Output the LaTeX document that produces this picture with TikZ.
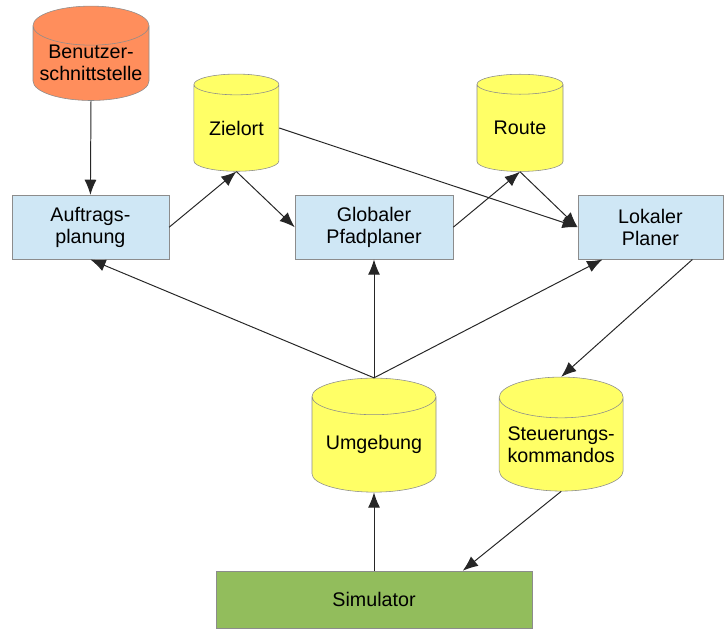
\documentclass[tikz,border=0pt]{standalone}
\usepackage{fontspec}
\setmainfont{Liberation Sans}
\usepackage{tikz}
\usetikzlibrary{shapes.geometric,arrows.meta,positioning,calc}

\definecolor{dbOrange}{RGB}{255,142,92}
\definecolor{dbYellow}{RGB}{255,255,102}
\definecolor{modBlue}{RGB}{207,231,245}
\definecolor{simGreen}{RGB}{146,189,92}
\definecolor{edgeGray}{RGB}{140,140,140}

\begin{document}
\begin{tikzpicture}[
  store/.style={cylinder, shape border rotate=90, draw=edgeGray, aspect=0.38,
                align=center, inner sep=0pt, font=\fontsize{14}{15.5}\selectfont},
  module/.style={draw=edgeGray, rectangle, align=center, inner sep=0pt,
                 fill=modBlue, minimum height=1.6cm, font=\fontsize{14}{15.5}\selectfont},
  arr/.style={-{Latex[length=3.8mm,width=3mm]}, line width=0.7pt, black!85},
  font=\fontsize{14}{15.5}\selectfont
]
\useasboundingbox (0,0) rectangle (18.1,15.75);

% ===== Datenspeicher =====
\node[store, fill=dbOrange, minimum width=2.9cm, minimum height=2.33cm]
  (ui) at (2.275,14.17) {Benutzer-\\schnittstelle};
\node[store, fill=dbYellow, minimum width=2.125cm, minimum height=2.43cm]
  (ziel) at (5.91,12.55) {Zielort};
\node[store, fill=dbYellow, minimum width=2.15cm, minimum height=2.43cm]
  (route) at (13.0,12.55) {Route};
\node[store, fill=dbYellow, minimum width=3.1cm, minimum height=2.85cm]
  (umg) at (9.35,4.64) {Umgebung};
\node[store, fill=dbYellow, minimum width=3.1cm, minimum height=2.85cm]
  (cmd) at (14.03,4.64) {Steuerungs-\\kommandos};

% ===== Planungsmodule =====
\node[module, minimum width=3.925cm] (auftrag) at (2.26,10.07) {Auftrags-\\planung};
\node[module, minimum width=3.95cm]  (global)  at (9.35,10.07) {Globaler\\Pfadplaner};
\node[module, minimum width=3.625cm] (lokal)   at (16.26,10.07) {Lokaler\\Planer};

% ===== Simulator =====
\node[draw=edgeGray, fill=simGreen, minimum width=7.9cm, minimum height=1.43cm]
  (sim) at (9.35,0.76) {Simulator};

% ===== Verbindungen =====
\draw[arr] (ui.bottom) -- (auftrag.north);
\draw[arr] (auftrag.east) -- (ziel.bottom);
\draw[arr] (ziel.bottom) -- (global.west);
\draw[arr] (ziel.east) -- (lokal.west);
\draw[arr] (global.east) -- (route.bottom);
\draw[arr] (route.bottom) -- (lokal.west);
\draw[arr] (umg.top) -- (auftrag.south);
\draw[arr] (umg.top) -- (global.south);
\draw[arr] (umg.top) -- ($(lokal.south)+(-1.2,0)$);
\draw[arr] ($(lokal.south)+(1.05,0)$) -- (cmd.top);
\draw[arr] (cmd.bottom) -- ($(sim.north)+(2.22,0)$);
\draw[arr] (sim.north) -- (umg.bottom);

\end{tikzpicture}
\end{document}
